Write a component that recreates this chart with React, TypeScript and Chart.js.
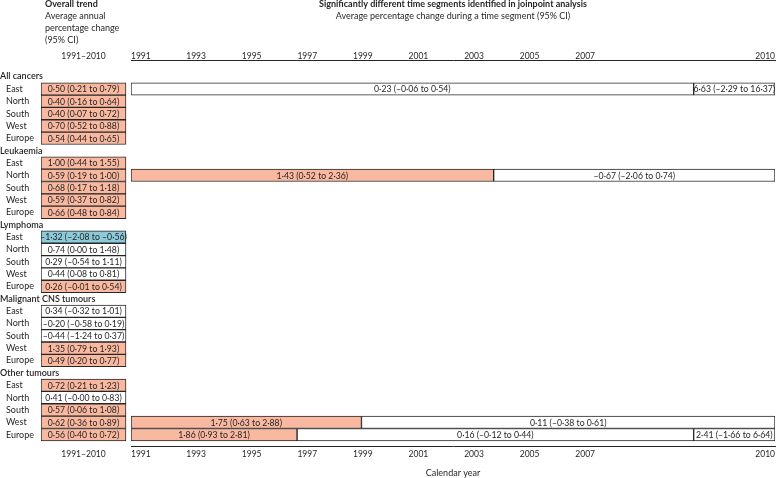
import React, { useEffect, useRef } from 'react';
import { Chart, registerables } from 'chart.js';

Chart.register(...registerables);

// ---------- data ----------
const groups = ['All cancers', 'Leukaemia', 'Lymphoma', 'Malignant CNS tumours', 'Other tumours'];
const regions = ['East', 'North', 'South', 'West', 'Europe'];
const overallPeriod = '1991–2010';
const yearFirst = 1991;
const yearLast = 2010;
const tickLabels = ['1991', '1993', '1995', '1997', '1999', '2001', '2003', '2005', '2007', '2010'];

// Overall trend: average annual percentage change (95% CI), rows in region order
const allCancersApc = [0.5, 0.4, 0.4, 0.7, 0.54];
const allCancersLo = [0.21, 0.16, 0.07, 0.52, 0.44];
const allCancersHi = [0.79, 0.64, 0.72, 0.88, 0.65];
const allCancersTrend = ['up', 'up', 'up', 'up', 'up'];

const leukaemiaApc = [1.0, 0.59, 0.68, 0.59, 0.66];
const leukaemiaLo = [0.44, 0.19, 0.17, 0.37, 0.48];
const leukaemiaHi = [1.55, 1.0, 1.18, 0.82, 0.84];
const leukaemiaTrend = ['up', 'up', 'up', 'up', 'up'];

const lymphomaApc = [-1.32, 0.74, 0.29, 0.44, 0.26];
const lymphomaLo = [-2.08, 0.0, -0.54, 0.08, -0.01];
const lymphomaHi = [-0.56, 1.48, 1.11, 0.81, 0.54];
const lymphomaTrend = ['down', 'none', 'none', 'none', 'up'];

const cnsApc = [0.34, -0.2, -0.44, 1.35, 0.49];
const cnsLo = [-0.32, -0.58, -1.24, 0.79, 0.2];
const cnsHi = [1.01, 0.19, 0.37, 1.93, 0.77];
const cnsTrend = ['none', 'none', 'none', 'up', 'up'];

const otherApc = [0.72, 0.41, 0.57, 0.62, 0.56];
const otherLo = [0.21, -0, 0.06, 0.36, 0.4];
const otherHi = [1.23, 0.83, 1.08, 0.89, 0.72];
const otherTrend = ['up', 'none', 'up', 'up', 'up'];

// Joinpoint segments
const segmentGroup = ['All cancers', 'All cancers', 'Leukaemia', 'Leukaemia', 'Other tumours', 'Other tumours', 'Other tumours', 'Other tumours', 'Other tumours'];
const segmentRegion = ['East', 'East', 'North', 'North', 'West', 'West', 'Europe', 'Europe', 'Europe'];
const segmentStart = [1991, 2007.6, 1991, 2001.7, 1991, 1997.8, 1991, 1995.9, 2007.6];
const segmentEnd = [2007.6, 2010, 2001.7, 2010, 1997.8, 2010, 1995.9, 2007.6, 2010];
const segmentApc = [0.23, 6.63, 1.43, -0.67, 1.75, 0.11, 1.86, 0.16, 2.41];
const segmentLo = [-0.06, -2.29, 0.52, -2.06, 0.63, -0.38, 0.93, -0.12, -1.66];
const segmentHi = [0.54, 16.37, 2.36, 0.74, 2.88, 0.61, 2.81, 0.44, 6.64];
const segmentTrend = ['none', 'none', 'up', 'none', 'up', 'none', 'up', 'none', 'none'];

// ---------- styling ----------
const FONT = 'Lato';
const INK = '#231f20';
const SALMON = '#f8b9a0';
const BLUE = '#8ccad9';
const WHITE = '#ffffff';
const BORDER = '#262626';

const overallApc = [allCancersApc, leukaemiaApc, lymphomaApc, cnsApc, otherApc];
const overallLo = [allCancersLo, leukaemiaLo, lymphomaLo, cnsLo, otherLo];
const overallHi = [allCancersHi, leukaemiaHi, lymphomaHi, cnsHi, otherHi];
const overallTrend = [allCancersTrend, leukaemiaTrend, lymphomaTrend, cnsTrend, otherTrend];

const rowsPerGroup = regions.length + 1;
const rowCount = groups.length * rowsPerGroup;
const rowOf = (g: number, r: number) => g * rowsPerGroup + 1 + r;
const trendColor = (t: string) => (t === 'up' ? SALMON : t === 'down' ? BLUE : WHITE);
const fmt = (v: number) => (v < 0 || Object.is(v, -0) ? '–' : '') + Math.abs(v).toFixed(2).replace('.', '·');
const ciText = (a: number, lo: number, hi: number) => `${fmt(a)} (${fmt(lo)} to ${fmt(hi)})`;

const overallData: any[] = [];
const overallText: string[] = [];
const overallColors: string[] = [];
groups.forEach((g, gi) => {
  regions.forEach((r, ri) => {
    overallData.push({ x: [0, 1], y: rowOf(gi, ri) });
    overallText.push(ciText(overallApc[gi][ri], overallLo[gi][ri], overallHi[gi][ri]));
    overallColors.push(trendColor(overallTrend[gi][ri]));
  });
});

const segData = segmentGroup.map((g, i) => ({
  x: [segmentStart[i], segmentEnd[i]],
  y: rowOf(groups.indexOf(g), regions.indexOf(segmentRegion[i])),
}));
const segText = segmentApc.map((a, i) => ciText(a, segmentLo[i], segmentHi[i]));
const segColors = segmentTrend.map(trendColor);

// layout constants
const LEFT_PAD = 41;
const LEFT_COL_W = 90; // column incl. gap
const BOX_W = 85;
const TIME_W = 644;
const TOP_AXIS_H = 16.5;
const BOTTOM_AXIS_H = 32;
const TOP_GAP_ROWS = 1.3;
const BOTTOM_GAP_ROWS = 0.92;
const LABEL_OFFSET_YR = 0.28;
const LABEL_STEP_YR = 1.64;
const BOX_FONT = 8.7;

const topTickFont = { family: FONT, size: 8.5, lineHeight: 1 };
const bottomTickFont = { family: FONT, size: 8.5, lineHeight: 1.9 };

const tickValue = (i: number) =>
  i === 0 ? yearFirst : i === tickLabels.length - 1 ? yearLast : yearFirst + LABEL_OFFSET_YR + LABEL_STEP_YR * i;

const textPlugin = {
  id: 'tableText',
  afterDatasetsDraw(chart: any) {
    const ctx = chart.ctx;
    ctx.save();
    ctx.fillStyle = INK;
    ctx.textBaseline = 'middle';
    // values in the boxes
    ctx.font = `${BOX_FONT}px ${FONT}`;
    ctx.textAlign = 'center';
    chart.data.datasets.forEach((ds: any, di: number) => {
      const meta = chart.getDatasetMeta(di);
      meta.data.forEach((bar: any, j: number) => {
        const p = bar.getProps(['x', 'base', 'y'], true);
        ctx.fillText(ds.texts[j], (p.x + p.base) / 2, p.y + 0.5);
      });
    });
    // row labels
    const yS = chart.scales.y;
    ctx.textAlign = 'left';
    groups.forEach((g, gi) => {
      ctx.font = `600 9px ${FONT}`;
      ctx.fillText(g, 0, yS.getPixelForValue(gi * rowsPerGroup));
      ctx.font = `9px ${FONT}`;
      regions.forEach((r, ri) => ctx.fillText(r, 6, yS.getPixelForValue(rowOf(gi, ri))));
    });
    // headers
    const lx = 45;
    const ly = [4.5, 16.3, 28.1, 39.9];
    ctx.font = `bold 9px ${FONT}`;
    ctx.fillText('Overall trend', lx, ly[0]);
    ctx.font = `9px ${FONT}`;
    ctx.fillText('Average annual', lx, ly[1]);
    ctx.fillText('percentage change', lx, ly[2]);
    ctx.fillText('(95% CI)', lx, ly[3]);
    const xb = chart.scales.xb;
    const cx = (xb.left + xb.right) / 2;
    ctx.textAlign = 'center';
    ctx.font = `bold 9px ${FONT}`;
    ctx.fillText('Significantly different time segments identified in joinpoint analysis', cx, ly[0]);
    ctx.font = `9px ${FONT}`;
    ctx.fillText('Average percentage change during a time segment (95% CI)', cx, ly[1]);
    ctx.restore();
  },
};

const hiddenGrid = { display: false, drawTicks: false, offset: false };

function makeConfig(): any {
  return {
    type: 'bar',
    data: {
      datasets: [
        {
          label: 'Overall trend',
          data: overallData,
          texts: overallText,
          xAxisID: 'xLb',
          yAxisID: 'y',
          backgroundColor: overallColors,
          borderColor: BORDER,
          borderWidth: 1,
          borderSkipped: false,
          grouped: false,
          barPercentage: 1,
          categoryPercentage: 1,
        },
        {
          label: 'Segments',
          data: segData,
          texts: segText,
          xAxisID: 'xb',
          yAxisID: 'y',
          backgroundColor: segColors,
          borderColor: BORDER,
          borderWidth: 1,
          borderSkipped: false,
          grouped: false,
          barPercentage: 1,
          categoryPercentage: 1,
        },
      ],
    },
    options: {
      indexAxis: 'y',
      responsive: false,
      animation: false,
      devicePixelRatio: 1,
      layout: { padding: { top: 44, left: LEFT_PAD, right: 1, bottom: 0 } },
      plugins: { legend: { display: false }, tooltip: { enabled: false } },
      scales: {
        y: {
          type: 'linear',
          display: false,
          offset: false,
          grid: hiddenGrid,
          reverse: true,
          bounds: 'data',
          min: -TOP_GAP_ROWS,
          max: rowCount - 1 + BOTTOM_GAP_ROWS,
          afterBuildTicks: (s: any) => {
            s.ticks = Array.from({ length: rowCount }, (_, i) => ({ value: i }));
          },
        },
        xLt: {
          type: 'linear',
          position: 'top',
          stack: 'topStack',
          stackWeight: LEFT_COL_W,
          weight: 1,
          min: 0,
          max: LEFT_COL_W / BOX_W,
          offset: false,
          grid: hiddenGrid,
          border: { display: false },
          ticks: { font: topTickFont, color: INK, padding: 0, autoSkip: false, maxRotation: 0, callback: () => overallPeriod },
          afterBuildTicks: (s: any) => { s.ticks = [{ value: 0.5 }]; },
          afterFit: (s: any) => { s.height = TOP_AXIS_H; },
        },
        xt: {
          type: 'linear',
          position: 'top',
          stack: 'topStack',
          stackWeight: TIME_W,
          weight: 0,
          min: yearFirst,
          max: yearLast,
          offset: false,
          grid: hiddenGrid,
          border: { display: true, color: BORDER, width: 1 },
          ticks: { font: topTickFont, color: INK, padding: 0, align: 'inner', autoSkip: false, maxRotation: 0, callback: (_v: any, i: number) => tickLabels[i] },
          afterBuildTicks: (s: any) => { s.ticks = tickLabels.map((_, i) => ({ value: tickValue(i) })); },
          afterFit: (s: any) => { s.height = TOP_AXIS_H; },
        },
        xLb: {
          type: 'linear',
          position: 'bottom',
          stack: 'bottomStack',
          stackWeight: LEFT_COL_W,
          weight: 0,
          min: 0,
          max: LEFT_COL_W / BOX_W,
          offset: false,
          grid: hiddenGrid,
          border: { display: false },
          ticks: { font: bottomTickFont, color: INK, padding: 0, autoSkip: false, maxRotation: 0, callback: () => overallPeriod },
          afterBuildTicks: (s: any) => { s.ticks = [{ value: 0.5 }]; },
          afterFit: (s: any) => { s.height = BOTTOM_AXIS_H; },
        },
        xb: {
          type: 'linear',
          position: 'bottom',
          stack: 'bottomStack',
          stackWeight: TIME_W,
          weight: 1,
          min: yearFirst,
          max: yearLast,
          offset: false,
          grid: hiddenGrid,
          border: { display: true, color: BORDER, width: 1 },
          ticks: { font: bottomTickFont, color: INK, padding: 0, align: 'inner', autoSkip: false, maxRotation: 0, callback: (_v: any, i: number) => tickLabels[i] },
          afterBuildTicks: (s: any) => { s.ticks = tickLabels.map((_, i) => ({ value: tickValue(i) })); },
          title: { display: true, text: 'Calendar year', color: INK, font: { family: FONT, size: 9, lineHeight: 1 }, padding: { top: 0, bottom: 0 } },
          afterFit: (s: any) => { s.height = BOTTOM_AXIS_H; },
        },
      },
    },
    plugins: [textPlugin],
  };
}

export default function App() {
  const ref = useRef<HTMLCanvasElement>(null);
  useEffect(() => {
    let chart: any = null;
    let cancelled = false;
    const build = () => {
      if (cancelled || !ref.current) return;
      chart = new Chart(ref.current, makeConfig());
    };
    const fonts: any = (document as any).fonts;
    if (fonts && fonts.load) {
      Promise.all([fonts.load(`9px ${FONT}`), fonts.load(`bold 9px ${FONT}`), fonts.load(`600 9px ${FONT}`)]).then(build, build);
    } else {
      build();
    }
    return () => {
      cancelled = true;
      if (chart) chart.destroy();
    };
  }, []);
  return (
    <div style={{ position: 'absolute', left: 0, top: 0, width: 776, height: 478, background: '#ffffff' }}>
      <canvas ref={ref} width={776} height={478} style={{ display: 'block', width: 776, height: 478 }} />
    </div>
  );
}
